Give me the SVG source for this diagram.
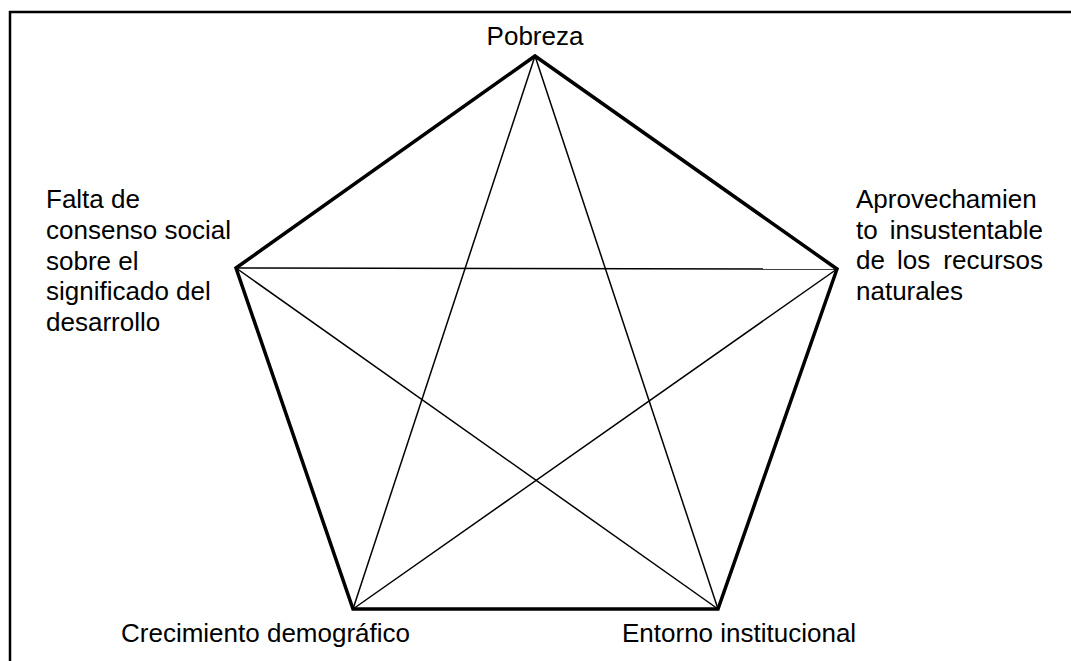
<svg xmlns="http://www.w3.org/2000/svg" width="1071" height="661" viewBox="0 0 1071 661">
<style>
text{font-family:"Liberation Sans",Arial,sans-serif;font-size:26px;fill:#000}
.frame{stroke:#000;stroke-width:2.5;fill:none}
.edge{stroke:#000;stroke-width:3.5;fill:none;stroke-linejoin:miter}
.diag{stroke:#000;stroke-width:1.5;fill:none}
</style>
<rect width="1071" height="661" fill="#fff"/>
<g id="frame">
<line class="frame" x1="9" y1="12" x2="1071" y2="12"/>
<line class="frame" x1="10" y1="11" x2="10" y2="661"/>
</g>
<g id="connectors">
<polygon class="edge" points="535,56 837,269 718,609 353,609 236,268"/>
<line class="diag" x1="535" y1="56" x2="718" y2="609"/>
<line class="diag" x1="535" y1="56" x2="353" y2="609"/>
<line class="diag" x1="236" y1="268" x2="837" y2="269"/>
<line class="diag" x1="236" y1="268" x2="718" y2="609"/>
<line class="diag" x1="837" y1="269" x2="353" y2="609"/>
</g>
<g id="node-pobreza">
<text x="535" y="45" text-anchor="middle">Pobreza</text>
</g>
<g id="node-consenso">
<text x="46" y="208">Falta de</text>
<text x="46" y="239">consenso social</text>
<text x="46" y="270">sobre el</text>
<text x="46" y="300">significado del</text>
<text x="46" y="331">desarrollo</text>
</g>
<g id="node-recursos">
<text x="856" y="208">Aprovechamien</text>
<text x="856" y="239">to</text>
<text x="1043" y="239" text-anchor="end">insustentable</text>
<text x="856" y="269">de</text>
<text x="897" y="269">los</text>
<text x="1043" y="269" text-anchor="end">recursos</text>
<text x="856" y="300">naturales</text>
</g>
<g id="node-crecimiento">
<text x="121" y="642">Crecimiento demográfico</text>
</g>
<g id="node-entorno">
<text x="622" y="642">Entorno institucional</text>
</g>
</svg>
